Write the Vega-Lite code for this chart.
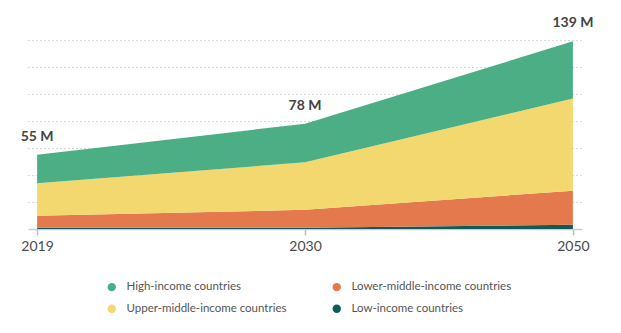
{
  "$schema": "https://vega.github.io/schema/vega-lite/v6.json",
  "width": 554,
  "height": 189,
  "autosize": {"type": "none"},
  "padding": {"left": 28, "top": 40, "right": 39, "bottom": 104},
  "background": "white",
  "config": {"view": {"stroke": null}, "font": "Lato"},
  "data": {"values": [
    {"year": "2019", "group": "Low-income countries", "value": 1.0},
    {"year": "2019", "group": "Lower-middle-income countries", "value": 8.8},
    {"year": "2019", "group": "Upper-middle-income countries", "value": 24.0},
    {"year": "2019", "group": "High-income countries", "value": 21.2},
    {"year": "2030", "group": "Low-income countries", "value": 1.0},
    {"year": "2030", "group": "Lower-middle-income countries", "value": 13.2},
    {"year": "2030", "group": "Upper-middle-income countries", "value": 35.2},
    {"year": "2030", "group": "High-income countries", "value": 28.6},
    {"year": "2050", "group": "Low-income countries", "value": 3.2},
    {"year": "2050", "group": "Lower-middle-income countries", "value": 25.2},
    {"year": "2050", "group": "Upper-middle-income countries", "value": 68.3},
    {"year": "2050", "group": "High-income countries", "value": 42.3}
  ]},
  "layer": [
    {
      "transform": [
        {"calculate": "indexof(['Low-income countries','Lower-middle-income countries','Upper-middle-income countries','High-income countries'], datum.group)", "as": "stackOrder"}
      ],
      "mark": {"type": "area", "opacity": 1},
      "encoding": {
        "x": {"field": "year", "type": "ordinal", "scale": {"type": "point", "padding": 0.034},
          "axis": {"title": null, "labelAngle": 0, "labelFontSize": 14, "labelColor": "#4a4a4a", "labelFont": "Lato",
            "tickColor": "#bbbbbb", "tickSize": 6, "tickWidth": 1.5, "domainColor": "#cccccc", "domainWidth": 1.5, "labelPadding": 4, "grid": false}},
        "y": {"field": "value", "type": "quantitative", "stack": "zero", "scale": {"domain": [0, 140], "nice": false},
          "axis": {"title": null, "labels": false, "ticks": false, "domain": false, "tickCount": 7, "values": [20, 40, 60, 80, 100, 120, 140],
            "grid": true, "gridColor": "#b5b5b5", "gridDash": [1, 3], "gridWidth": 1}},
        "color": {"field": "group", "type": "nominal",
          "scale": {"domain": ["High-income countries", "Lower-middle-income countries", "Upper-middle-income countries", "Low-income countries"],
            "range": ["#4BAE84", "#E4794D", "#F3D86F", "#0D5C5B"]},
          "legend": {"title": null, "orient": "none", "legendX": 78, "legendY": 241, "columns": 2, "direction": "horizontal",
            "symbolType": "circle", "symbolSize": 70, "symbolStrokeWidth": 0, "symbolOpacity": 1, "labelFontSize": 11.5, "labelColor": "#555555", "labelFont": "Lato",
            "labelOffset": 9, "columnPadding": 44, "rowPadding": 9, "labelLimit": 300}},
        "order": {"field": "stackOrder", "type": "quantitative"}
      }
    },
    {
      "transform": [
        {"aggregate": [{"op": "sum", "field": "value", "as": "total"}], "groupby": ["year"]},
        {"calculate": "format(datum.total, '.0f') + ' M'", "as": "label"}
      ],
      "mark": {"type": "text", "baseline": "bottom", "dy": -11, "fontSize": 14, "fontWeight": "bold", "color": "#444444", "font": "Lato"},
      "encoding": {
        "x": {"field": "year", "type": "ordinal"},
        "y": {"field": "total", "type": "quantitative"},
        "text": {"field": "label"}
      }
    }
  ]
}
